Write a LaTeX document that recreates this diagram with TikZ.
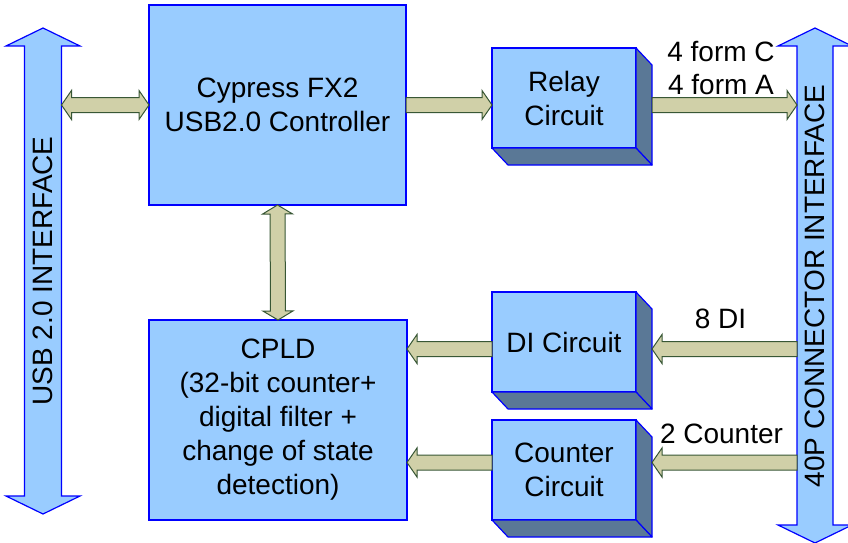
\documentclass[tikz,border=0pt]{standalone}
\usepackage{fontspec}
\setmainfont{Liberation Sans}
\usetikzlibrary{calc}

\tikzset{every picture/.style={line width=0.75pt}}
\tikzset{
  blk/.style={draw={rgb, 255:red, 0; green, 0; blue, 255}, fill={rgb, 255:red, 153; green, 204; blue, 255}, line width=1.2pt, outer sep=0pt, inner sep=0pt, align=center, font=\fontsize{28}{34}\selectfont},
  blkside/.style={draw={rgb, 255:red, 0; green, 0; blue, 255}, fill={rgb, 255:red, 90; green, 120; blue, 150}, line width=1.2pt, line join=round},
  bigarrow/.style={draw={rgb, 255:red, 0; green, 0; blue, 255}, fill={rgb, 255:red, 153; green, 204; blue, 255}, line width=1.2pt, line join=miter},
  busarrow/.style={draw={rgb, 255:red, 56; green, 87; blue, 53}, fill={rgb, 255:red, 208; green, 208; blue, 168}, line width=1pt, line join=miter},
  lbl/.style={inner sep=0pt, align=center, font=\fontsize{28}{33}\selectfont}
}

% block arrow: style, from, to, half shaft, half head, head length
\newcommand{\fatarrow}[6]{%
  \coordinate (fa-h) at ($(#3)!#6pt!(#2)$);
  \draw [#1] ($(#2)!#4pt!90:(#3)$) -- ($(fa-h)!#4pt!-90:(#2)$) -- ($(fa-h)!#5pt!-90:(#2)$) -- (#3)
    -- ($(fa-h)!#5pt!90:(#2)$) -- ($(fa-h)!#4pt!90:(#2)$) -- ($(#2)!#4pt!-90:(#3)$) -- cycle;
}
% two headed block arrow
\newcommand{\fatdarrow}[6]{%
  \coordinate (fa-h1) at ($(#2)!#6pt!(#3)$);
  \coordinate (fa-h2) at ($(#3)!#6pt!(#2)$);
  \draw [#1] (#2) -- ($(fa-h1)!#5pt!90:(#3)$) -- ($(fa-h1)!#4pt!90:(#3)$) -- ($(fa-h2)!#4pt!-90:(#2)$) -- ($(fa-h2)!#5pt!-90:(#2)$) -- (#3)
    -- ($(fa-h2)!#5pt!90:(#2)$) -- ($(fa-h2)!#4pt!90:(#2)$) -- ($(fa-h1)!#4pt!-90:(#3)$) -- ($(fa-h1)!#5pt!-90:(#3)$) -- cycle;
}
% right and bottom faces of a box
\newcommand{\boxdepth}[1]{%
  \draw [blkside] (#1.north east) -- ++(16,17) -- ($(#1.south east)+(16,17)$) -- (#1.south east) -- cycle;
  \draw [blkside] (#1.south west) -- ++(16,17) -- ($(#1.south east)+(16,17)$) -- (#1.south east) -- cycle;
}

\begin{document}
\begin{tikzpicture}[x=1pt,y=1pt,yscale=-1,xscale=1]
\useasboundingbox (0,0) rectangle (848,543);

%Block Arrow: USB interface
\coordinate (usb-top) at (43,28);
\coordinate (usb-bot) at (43,514);
\fatdarrow{bigarrow}{usb-top}{usb-bot}{18.5}{37}{18}
% Text Node
\node [lbl, rotate=90] (usb) at (43,271) {USB 2.0 INTERFACE};

%Block Arrow: 40P connector
\coordinate (conn-top) at (815,28);
\coordinate (conn-bot) at (815,543);
\fatdarrow{bigarrow}{conn-top}{conn-bot}{18}{37}{18}
% Text Node
\node [lbl, rotate=90] (conn) at (815,286) {40P CONNECTOR INTERFACE};

%Shape: Boxes
\node [blk, minimum width=257pt, minimum height=200pt] (fx2) at (277.5,105) {Cypress FX2\\USB2.0 Controller};
\node [blk, minimum width=258pt, minimum height=200pt] (cpld) at (278,420) {CPLD\\(32-bit counter+\\digital filter +\\change of state\\detection)};
\node [blk, minimum width=144pt, minimum height=100pt] (relay) at (564,98) {Relay\\Circuit};
\node [blk, minimum width=144pt, minimum height=100pt] (di) at (564,342) {DI Circuit};
\node [blk, minimum width=144pt, minimum height=100pt] (cnt) at (564,470) {Counter\\Circuit};
\boxdepth{relay}
\boxdepth{di}
\boxdepth{cnt}

%Block Arrows: buses
\coordinate (usb-r) at (61.5,271);
\coordinate (conn-l) at (797,286);
\coordinate (usb-fx2) at (usb-r |- fx2.west);
\fatdarrow{busarrow}{usb-fx2}{fx2.west}{7.5}{14.5}{10}
\coordinate (fx2-relay) at (relay.west |- fx2.east);
\fatarrow{busarrow}{fx2.east}{fx2-relay}{7.5}{14.5}{10}
\coordinate (relay-out) at ($(relay.east)+(16,7)$);
\coordinate (relay-conn) at (conn-l |- relay-out);
\fatarrow{busarrow}{relay-out}{relay-conn}{7.5}{14.5}{10}
\fatdarrow{busarrow}{fx2.south}{cpld.north}{7.5}{15}{9}
\coordinate (di-in) at ($(di.east)+(16,7)$);
\coordinate (conn-di) at (conn-l |- di-in);
\fatarrow{busarrow}{conn-di}{di-in}{7.5}{14.5}{10}
\coordinate (di-out) at ($(di.west)+(0,7)$);
\coordinate (cpld-di) at (cpld.east |- di-out);
\fatarrow{busarrow}{di-out}{cpld-di}{7.5}{14.5}{10}
\coordinate (cnt-in) at ($(cnt.east)+(16,-7.5)$);
\coordinate (conn-cnt) at (conn-l |- cnt-in);
\fatarrow{busarrow}{conn-cnt}{cnt-in}{7.5}{14.5}{10}
\coordinate (cnt-out) at ($(cnt.west)+(0,-7.5)$);
\coordinate (cpld-cnt) at (cpld.east |- cnt-out);
\fatarrow{busarrow}{cnt-out}{cpld-cnt}{7.5}{14.5}{10}

% Text Node
\node [lbl] (lbl-form) at (721,68.5) {4 form C\\4 form A};
% Text Node
\node [lbl] (lbl-di) at (720.5,319) {8 DI};
% Text Node
\node [lbl] (lbl-cnt) at (721.5,434) {2 Counter};
\end{tikzpicture}
\end{document}
